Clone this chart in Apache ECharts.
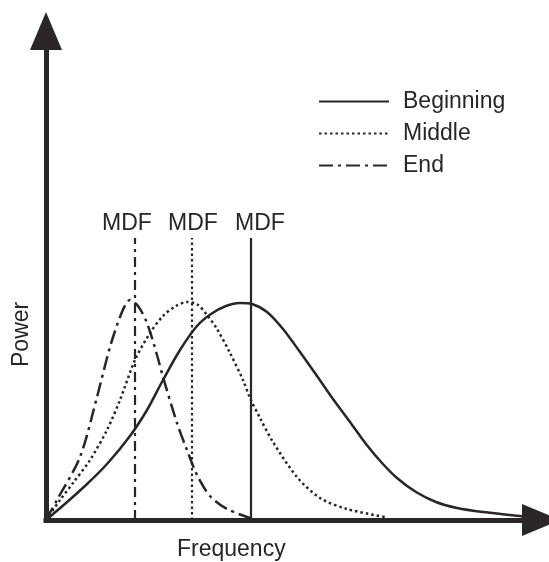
<!DOCTYPE html>
<html>
<head>
<meta charset="utf-8">
<script src="https://cdn.jsdelivr.net/npm/echarts@6/dist/echarts.min.js"></script>
<style>
html,body{margin:0;padding:0;background:#fff;}
#c{width:549px;height:562px;}
</style>
</head>
<body>
<div id="c"></div>
<script>
// Frequency (arbitrary units) vs Power (arbitrary units)
const seriesNames = ['Beginning', 'Middle', 'End'];
const beginning = [[0,0],[20,17],[40,35],[61,56],[84,84],[101,110],[117,140],[134,170],[151,194],[165,206],[180,214],[194,217],[206,216],[221,208],[237,191],[254,168],[271,144],[287,121],[304,98],[320,76],[336,57],[351,42],[370,28],[390,18],[411,12],[437,8],[474,4],[490,1]];
const middle = [[0,0],[14,20],[27,37],[44,60],[61,90],[74,120],[89,160],[104,187],[117,204],[130,214],[141,218],[152,215],[161,205],[171,191],[184,167],[197,140],[204,122],[214,102],[227,78],[251,43],[274,22],[301,11],[339,3]];
const end = [[0,0],[11,20],[34,63],[51,123],[64,173],[76,208],[84,220],[92,214],[101,197],[111,165],[117,143],[131,97],[141,70],[151,45],[164,24],[181,11],[204,2]];
// Median frequencies (MDF) for each series and the height of their markers
const mdfX = [205, 146, 89];
const mdfTop = 282;
const mdfLabelPos = [[214, 296], [147, 296], [81, 296]];
const mdfLabelText = 'MDF';
const axisMax = { x: 495, y: 489 };

const ink = '#2a2526';
const txt = '#262626';
const font = 'Liberation Sans, Arial, Helvetica, sans-serif';
const lineTypes = ['solid', [2.5, 3], [14, 5, 3, 5]];
const vTypes = ['solid', [2.5, 3], [10, 5, 3, 5]];
const datasets = [beginning, middle, end];

const chart = echarts.init(document.getElementById('c'), null, { renderer: 'canvas' });

const series = datasets.map((d, i) => ({
  name: seriesNames[i],
  type: 'line',
  data: d,
  smooth: 0.3,
  symbol: 'none',
  clip: false,
  lineStyle: { color: ink, width: 2.5, type: lineTypes[i] },
  itemStyle: { color: ink },
  markLine: {
    silent: true,
    symbol: 'none',
    label: { show: false },
    lineStyle: { color: ink, width: 2.2, type: vTypes[i] },
    data: [[{ coord: [mdfX[i], 0] }, { coord: [mdfX[i], mdfTop] }]]
  }
}));

series.push({
  name: 'MDF labels',
  type: 'scatter',
  data: mdfLabelPos,
  symbolSize: 0,
  silent: true,
  itemStyle: { opacity: 1 },
  label: {
    show: true,
    position: 'inside',
    formatter: mdfLabelText,
    color: txt,
    opacity: 1,
    fontSize: 23,
    fontFamily: font
  }
});

const axisLine = {
  show: true,
  symbol: ['none', 'triangle'],
  symbolSize: [32, 38],
  lineStyle: { color: ink, width: 5, cap: 'square' }
};

chart.setOption({
  animation: false,
  backgroundColor: '#fff',
  grid: { left: 46, right: 8, top: 31, bottom: 42, containLabel: false },
  xAxis: {
    type: 'value', min: 0, max: axisMax.x,
    axisLine: axisLine,
    axisTick: { show: false }, axisLabel: { show: false }, splitLine: { show: false }
  },
  yAxis: {
    type: 'value', min: 0, max: axisMax.y,
    axisLine: axisLine,
    axisTick: { show: false }, axisLabel: { show: false }, splitLine: { show: false }
  },
  legend: {
    data: seriesNames,
    orient: 'vertical',
    left: 318,
    top: 90,
    padding: 0,
    itemWidth: 70,
    itemHeight: 14,
    itemGap: 9,
    itemStyle: { opacity: 0 },
    textStyle: { color: txt, fontSize: 23, fontFamily: font, padding: [0, 0, 0, 9] }
  },
  graphic: [
    { type: 'text', left: 177, top: 538, style: { text: 'Frequency', fill: txt, font: '23px ' + font } },
    { type: 'text', x: 10, y: 367, rotation: Math.PI / 2, style: { text: 'Power', fill: txt, font: '23px ' + font } }
  ],
  series: series
});
</script>
</body>
</html>
